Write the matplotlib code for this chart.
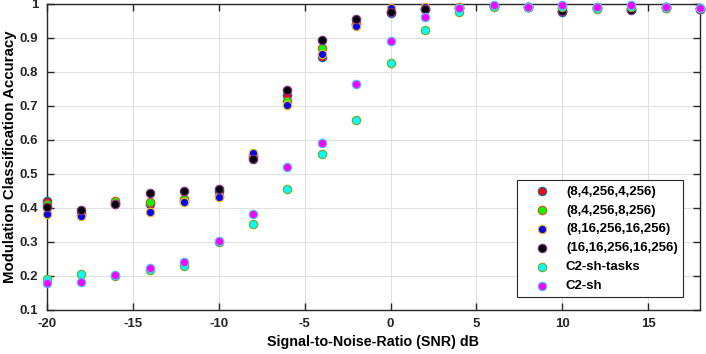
import numpy as np
import matplotlib
matplotlib.use('Agg')
import matplotlib.pyplot as plt

snr = [-20, -18, -16, -14, -12, -10, -8, -6, -4, -2, 0, 2, 4, 6, 8, 10, 12, 14, 16, 18]

acc_8_4_4 = [0.42, 0.378, 0.414, 0.41, 0.42, 0.45, 0.555, 0.731, 0.844, 0.94, 0.972,
             0.985, 0.988, 0.993, 0.99, 0.977, 0.988, 0.985, 0.99, 0.985]
acc_8_4_8 = [0.41, 0.385, 0.418, 0.416, 0.425, 0.435, 0.55, 0.715, 0.871, 0.94, 0.975,
             0.985, 0.99, 0.993, 0.99, 0.98, 0.99, 0.985, 0.988, 0.985]
acc_8_16_16 = [0.381, 0.375, 0.41, 0.386, 0.415, 0.432, 0.562, 0.703, 0.853, 0.934, 0.986,
               0.99, 0.99, 0.993, 0.99, 0.985, 0.99, 0.988, 0.988, 0.983]
acc_16_16_16 = [0.403, 0.393, 0.411, 0.444, 0.448, 0.455, 0.543, 0.746, 0.894, 0.954, 0.976,
                0.983, 0.988, 0.993, 0.99, 0.98, 0.988, 0.982, 0.99, 0.985]
acc_c2_tasks = [0.189, 0.204, 0.199, 0.215, 0.229, 0.30, 0.352, 0.456, 0.557, 0.659, 0.826,
                0.924, 0.976, 0.99, 0.99, 0.99, 0.985, 0.99, 0.988, 0.988]
acc_c2_sh = [0.178, 0.182, 0.203, 0.221, 0.239, 0.303, 0.381, 0.52, 0.589, 0.765, 0.889,
             0.961, 0.987, 0.995, 0.991, 0.995, 0.99, 0.995, 0.99, 0.988]

series = [
    ('(8,4,256,4,256)', acc_8_4_4, '#ff0000', '#0072BD'),
    ('(8,4,256,8,256)', acc_8_4_8, '#00ff00', '#D95319'),
    ('(8,16,256,16,256)', acc_8_16_16, '#0000ff', '#EDB120'),
    ('(16,16,256,16,256)', acc_16_16_16, '#000000', '#7E2F8E'),
    ('C2-sh-tasks', acc_c2_tasks, '#00ffff', '#77AC30'),
    ('C2-sh', acc_c2_sh, '#ff00ff', '#4DBEEE'),
]

plt.rcParams['font.family'] = ['Liberation Sans', 'DejaVu Sans']
plt.rcParams['font.weight'] = 'bold'
plt.rcParams['axes.unicode_minus'] = False

fig = plt.figure(figsize=(7.06, 3.54), dpi=100)
ax = fig.add_axes([0.0661, 0.1257, 0.9254, 0.8638])

for name, vals, face, edge in series:
    ax.scatter(snr, vals, s=36, facecolor=face, edgecolor=edge, linewidths=0.9,
               label=name, clip_on=False, zorder=3)

ax.set_xlim(-20, 18)
ax.set_ylim(0.1, 1)
ax.set_xticks([-20, -15, -10, -5, 0, 5, 10, 15])
ax.set_yticks(np.round(np.arange(0.1, 1.01, 0.1), 1))
ax.set_yticklabels(['0.1', '0.2', '0.3', '0.4', '0.5', '0.6', '0.7', '0.8', '0.9', '1'])
ax.grid(True, color='#e0e0e0', linewidth=0.8)
ax.set_axisbelow(True)
ax.tick_params(direction='in', top=True, right=True, length=5, width=1,
               labelsize=9.5, colors='#262626')
ax.tick_params(axis='x', pad=6)
ax.tick_params(axis='y', pad=6)
for lbl in ax.get_xticklabels() + ax.get_yticklabels():
    lbl.set_fontweight('bold')
for sp in ax.spines.values():
    sp.set_color('#262626')
    sp.set_linewidth(1)

ax.set_xlabel('Signal-to-Noise-Ratio (SNR) dB', fontsize=10.3, fontweight='bold', labelpad=4)
ax.set_ylabel('Modulation Classification Accuracy', fontsize=10.8, fontweight='bold', labelpad=2)

leg = ax.legend(loc='lower right', bbox_to_anchor=(0.974, 0.04), borderaxespad=0,
                fontsize=9.5, fancybox=False, edgecolor='#262626', framealpha=1,
                handletextpad=0.3, borderpad=0.4, labelspacing=0.5, scatterpoints=1,
                handlelength=3.0)
leg.get_frame().set_linewidth(0.8)
for t in leg.get_texts():
    t.set_fontweight('bold')

fig.savefig('out.png', dpi=100)
